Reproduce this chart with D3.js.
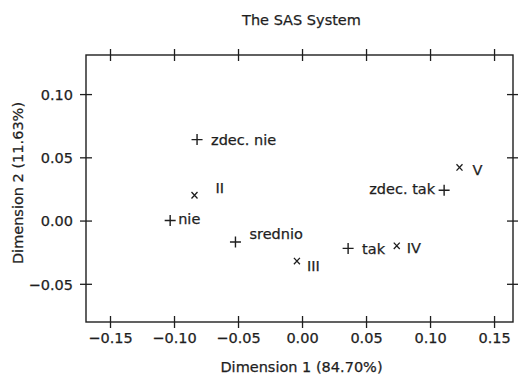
<!DOCTYPE html>
<html>
<head>
<meta charset="utf-8">
<script src="https://cdn.jsdelivr.net/npm/d3@7"></script>
<style>
  html, body { margin: 0; padding: 0; background: #fff; }
  svg text { font-family: "DejaVu Sans", sans-serif; fill: #1e1e1e; stroke: #1e1e1e; stroke-width: 0.25px; }
</style>
</head>
<body>
<svg id="chart" width="518" height="376"></svg>
<script>
// Correspondence analysis: response categories (+) and column categories (x)
const rowLabels = ["zdec. nie", "nie", "srednio", "tak", "zdec. tak"];
const rowDim1   = [-0.082, -0.103, -0.052, 0.036, 0.111];
const rowDim2   = [ 0.064,  0.000, -0.017, -0.022, 0.024];

const colLabels = ["II", "III", "IV", "V"];
const colDim1   = [-0.084, -0.004, 0.074, 0.123];
const colDim2   = [ 0.020, -0.032, -0.020, 0.042];

const xTicks = [-0.15, -0.10, -0.05, 0.00, 0.05, 0.10, 0.15];
const yTicks = [-0.05, 0.00, 0.05, 0.10];

const title  = "The SAS System";
const xTitle = "Dimension 1 (84.70%)";
const yTitle = "Dimension 2 (11.63%)";

// label placement next to each marker: [dx, dy, anchor]
const labelPlacement = {
  "zdec. nie": [14, 5, "start"],
  "nie":       [8, 3, "start"],
  "srednio":   [14, -3, "start"],
  "tak":       [14, 6, "start"],
  "zdec. tak": [-9, 4, "end"],
  "II":        [21, -2, "start"],
  "III":       [10, 10, "start"],
  "IV":        [10, 7, "start"],
  "V":         [13, 8, "start"]
};

const svg = d3.select("#chart");
const frame = { left: 86, right: 513, top: 55, bottom: 322 };
const fontSize = 14.5;
const ink = "#1e1e1e";

const x = d3.scaleLinear().domain([-0.16875, 0.1648]).range([frame.left, frame.right]);
const y = d3.scaleLinear().domain([-0.0802, 0.1309]).range([frame.bottom, frame.top]);
const fmt = d3.format(".2f");

// frame
svg.append("rect")
  .attr("x", frame.left).attr("y", frame.top)
  .attr("width", frame.right - frame.left).attr("height", frame.bottom - frame.top)
  .attr("fill", "none").attr("stroke", ink).attr("stroke-width", 1.4);

function styleAxis(g, crossAttr) {
  g.select(".domain").remove();
  g.selectAll(".tick line").attr("stroke", ink).attr("stroke-width", 1.3)
    .attr(crossAttr[0], -6).attr(crossAttr[1], 6);
  g.selectAll(".tick text").attr("font-size", fontSize).style("font-family", "DejaVu Sans, sans-serif");
}

// bottom and top axes
svg.append("g").attr("transform", `translate(0,${frame.bottom})`)
  .call(d3.axisBottom(x).tickValues(xTicks).tickFormat(fmt).tickSize(6).tickPadding(12))
  .call(g => styleAxis(g, ["y1", "y2"]))
  .call(g => g.selectAll(".tick text").attr("dy", "0.71em").attr("y", 11));
svg.append("g").attr("transform", `translate(0,${frame.top})`)
  .call(d3.axisTop(x).tickValues(xTicks).tickFormat(""))
  .call(g => styleAxis(g, ["y1", "y2"]));

// left and right axes
svg.append("g").attr("transform", `translate(${frame.left},0)`)
  .call(d3.axisLeft(y).tickValues(yTicks).tickFormat(fmt).tickSize(6))
  .call(g => styleAxis(g, ["x1", "x2"]))
  .call(g => g.selectAll(".tick text").attr("x", -13).attr("dy", "0.36em"));
svg.append("g").attr("transform", `translate(${frame.right},0)`)
  .call(d3.axisRight(y).tickValues(yTicks).tickFormat(""))
  .call(g => styleAxis(g, ["x1", "x2"]));

// titles
svg.append("text").attr("x", 301.5).attr("y", 24.5).attr("text-anchor", "middle")
  .attr("font-size", fontSize).text(title);
svg.append("text").attr("x", 301.5).attr("y", 372).attr("text-anchor", "middle")
  .attr("font-size", fontSize).text(xTitle);
svg.append("text").attr("transform", "translate(23,183) rotate(-90)").attr("text-anchor", "middle")
  .attr("font-size", fontSize).text(yTitle);

const rows = rowLabels.map((label, i) => ({ label, d1: rowDim1[i], d2: rowDim2[i] }));
const cols = colLabels.map((label, i) => ({ label, d1: colDim1[i], d2: colDim2[i] }));

// row points: plus markers
const plus = svg.append("g").selectAll("g").data(rows).join("g")
  .attr("transform", d => `translate(${x(d.d1)},${y(d.d2)})`);
plus.append("path").attr("d", "M-5.5,0H5.5M0,-5.5V5.5")
  .attr("stroke", ink).attr("stroke-width", 1.4).attr("fill", "none");

// column points: small x markers
const cross = svg.append("g").selectAll("g").data(cols).join("g")
  .attr("transform", d => `translate(${x(d.d1)},${y(d.d2)})`);
cross.append("path").attr("d", "M-3,-3.2L3,3.2M-3,3.2L3,-3.2")
  .attr("stroke", ink).attr("stroke-width", 1.3).attr("fill", "none");

// labels
[plus, cross].forEach(sel => sel.append("text")
  .attr("x", d => labelPlacement[d.label][0])
  .attr("y", d => labelPlacement[d.label][1])
  .attr("text-anchor", d => labelPlacement[d.label][2])
  .attr("font-size", fontSize)
  .text(d => d.label));
</script>
</body>
</html>
